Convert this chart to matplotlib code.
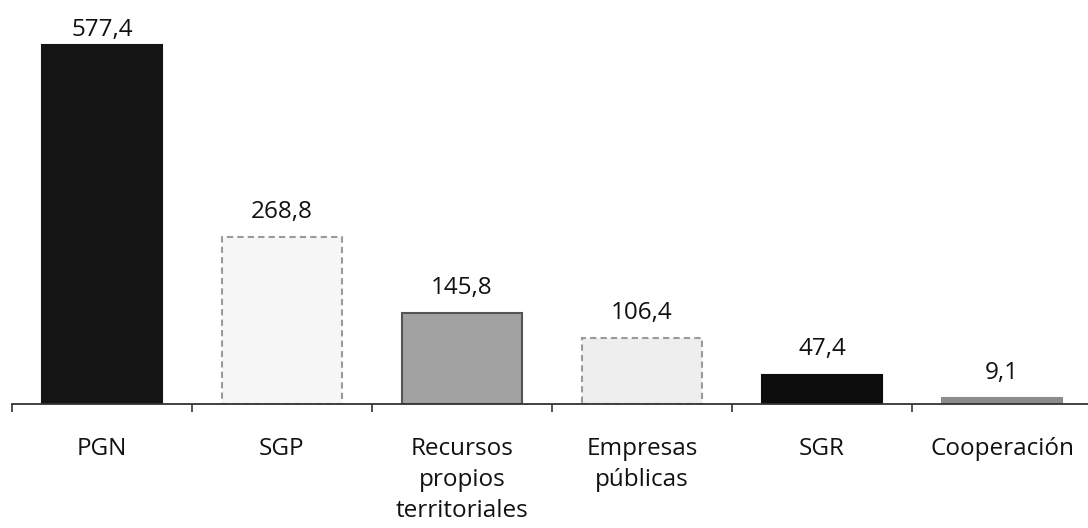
import matplotlib
matplotlib.use("Agg")
import matplotlib.pyplot as plt

categories = ["PGN", "SGP", "Recursos\npropios\nterritoriales", "Empresas\npúblicas", "SGR", "Cooperación"]
values = [577.4, 268.8, 145.8, 106.4, 47.4, 9.1]
value_labels = ["577,4", "268,8", "145,8", "106,4", "47,4", "9,1"]

face_colors = ["#141414", "#f6f6f6", "#a2a2a2", "#eeeeee", "#0c0c0c", "#8c8c8c"]
edge_colors = ["#141414", "#9a9a9a", "#555555", "#9a9a9a", "#0c0c0c", "#8c8c8c"]
edge_styles = ["solid", (0, (3, 2)), "solid", (0, (3, 2)), "solid", "solid"]
label_offsets = [2, 9.5, 9.5, 9.5, 9.5, 9.5]

plt.rcParams['font.family'] = ['Open Sans', 'DejaVu Sans']

fig = plt.figure(figsize=(10.88, 5.28), dpi=100)
ax = fig.add_axes([12/1088, (528-404)/528, 1080/1088, 404/528])

x = list(range(len(categories)))
for i in x:
    ax.bar(i, values[i], width=0.667, color=face_colors[i], edgecolor=edge_colors[i],
           linewidth=1.5, linestyle=edge_styles[i], zorder=2)
    ax.annotate(value_labels[i], (i, values[i]), xytext=(0, label_offsets[i]), textcoords="offset points",
                ha="center", va="bottom", fontsize=17.5, color="#111111")

ax.set_xlim(-0.5, 5.5)
ax.set_ylim(0, 650)
ax.set_xticks(x)
ax.set_xticklabels(categories, fontsize=17.5, color="#111111", linespacing=1.38)
ax.tick_params(axis="x", which="major", length=0, pad=24)
ax.set_xticks([i - 0.5 for i in range(len(categories) + 1)], minor=True)
ax.tick_params(axis="x", which="minor", length=6, width=1.2, direction="out", color="#333333")
ax.set_yticks([])
for s in ["top", "right", "left"]:
    ax.spines[s].set_visible(False)
ax.spines["bottom"].set_color("#333333")
ax.spines["bottom"].set_linewidth(1.3)
ax.set_facecolor("white")
fig.patch.set_facecolor("white")

fig.savefig("out.png", dpi=100)
